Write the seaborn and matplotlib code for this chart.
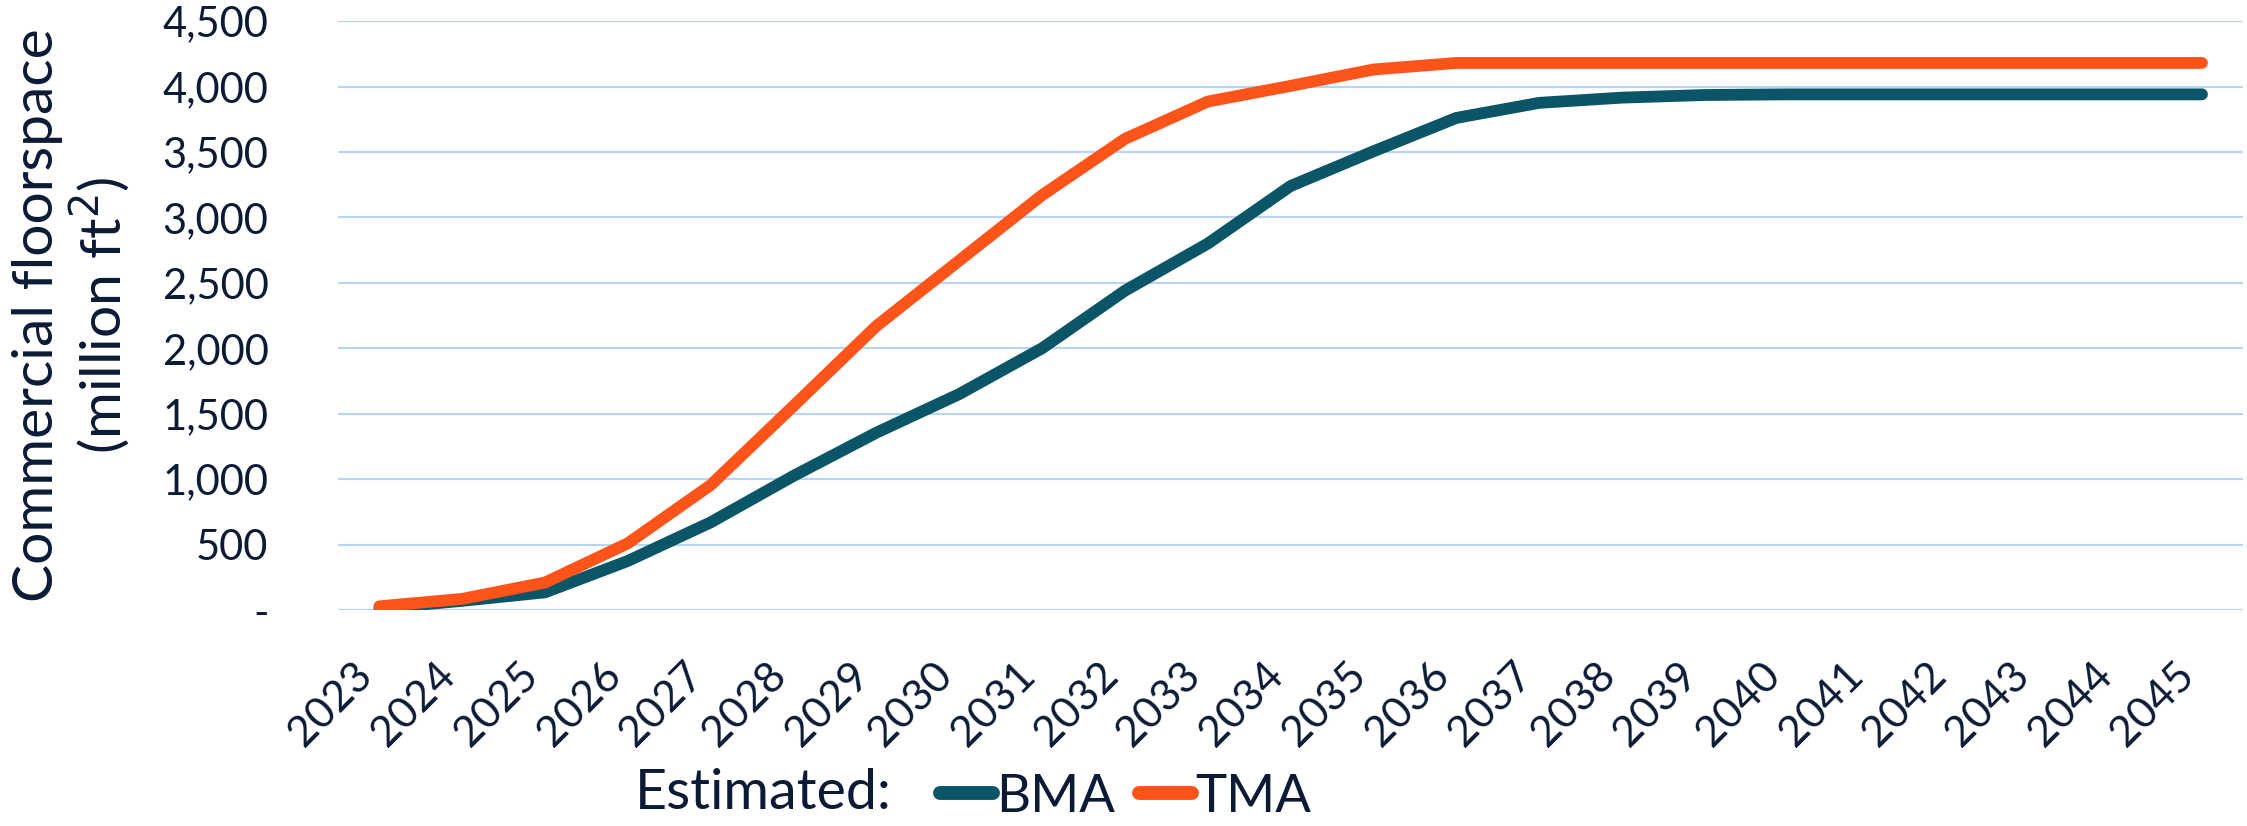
import numpy as np
import pandas as pd
import seaborn as sns
import matplotlib.pyplot as plt
from matplotlib.ticker import FuncFormatter

years = list(range(2023, 2046))
bma = [12, 70, 135, 375, 670, 1025, 1355, 1650, 2000, 2440, 2800, 3240, 3505, 3760,
       3875, 3915, 3935, 3940, 3940, 3940, 3940, 3940, 3940]
tma = [28, 85, 210, 510, 955, 1560, 2170, 2670, 3170, 3600, 3885, 4005, 4130, 4180,
       4180, 4180, 4180, 4180, 4180, 4180, 4180, 4180, 4180]
series = ["BMA", "TMA"]
colors = {"BMA": "#0b5568", "TMA": "#ff5419"}
text_col = "#0c1b35"
grid_col = "#b8d4f6"

d = pd.DataFrame({"year": years * 2, "value": bma + tma,
                  "series": ["BMA"] * len(years) + ["TMA"] * len(years)})

sns.set_theme(style="white")
plt.rcParams["font.family"] = ["Lato", "DejaVu Sans"]
plt.rcParams["text.color"] = text_col

fig = plt.figure(figsize=(22.47, 8.26), dpi=100)
ax = fig.add_axes([0.1504, 0.2615, 0.848, 0.713])

sns.lineplot(data=d, x="year", y="value", hue="series", hue_order=series,
             palette=colors, linewidth=8.5, solid_capstyle="round",
             solid_joinstyle="round", ax=ax)

ax.set_xlim(years[0] - 0.5, years[-1] + 0.5)
ax.set_ylim(0, 4500)
ax.set_yticks(np.arange(0, 4501, 500))
ax.yaxis.set_major_formatter(FuncFormatter(lambda v, p: "-" if v == 0 else f"{v:,.0f}"))
ax.set_xticks(years)
ax.set_xticklabels([str(y) for y in years], rotation=45, ha="right")
ax.grid(axis="y", color=grid_col, linewidth=1.6)
ax.set_axisbelow(True)
for s in ax.spines.values():
    s.set_visible(False)
ax.tick_params(axis="y", length=0, pad=50, labelsize=30, labelcolor=text_col)
ax.tick_params(axis="x", length=0, pad=33, labelsize=31, labelcolor=text_col)
ax.set_xlabel("")
ax.set_ylabel("Commercial floorspace\n(million ft$^2$)", fontsize=41, color=text_col,
              labelpad=22, linespacing=1.1)

handles, labels = ax.get_legend_handles_labels()
ax.get_legend().remove()
fig.text(0.2825, 0.02, "Estimated:", fontsize=40, color=text_col, va="baseline")
leg = fig.legend(handles, labels, loc="lower left", bbox_to_anchor=(0.409, -0.019),
                 ncol=2, frameon=False, fontsize=38, handlelength=1.0,
                 handletextpad=0.06, columnspacing=0.45, borderaxespad=0)
for h in leg.get_lines():
    h.set_linewidth(10)
    h.set_solid_capstyle("round")

fig.savefig("out.png", dpi=100)
